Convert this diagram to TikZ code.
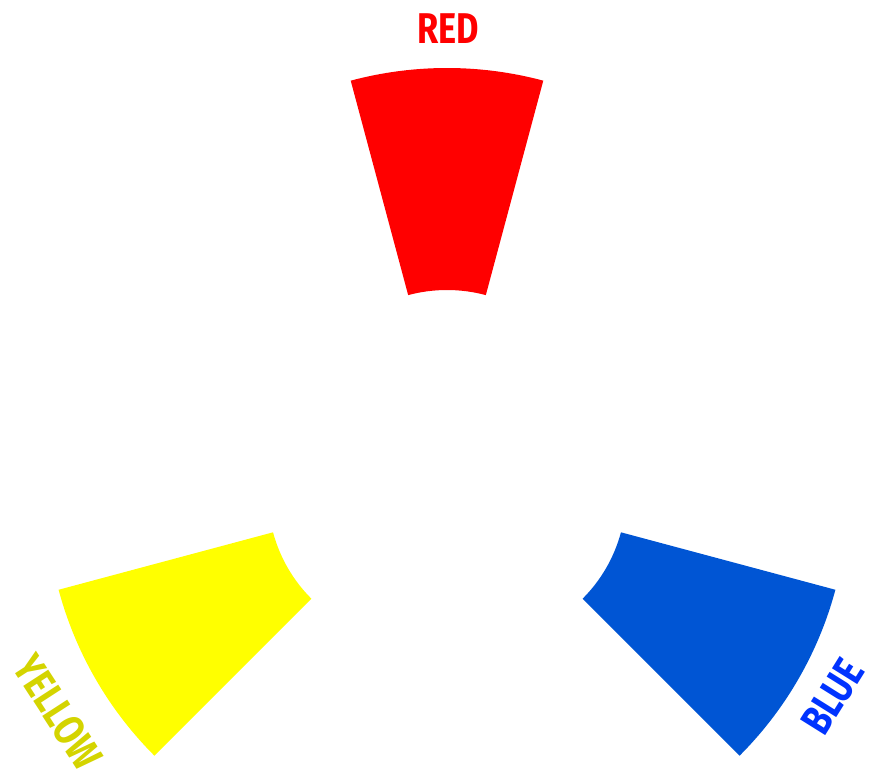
\documentclass[tikz,border=0pt]{standalone}
\usepackage{fontspec}
\newfontfamily\labfont[FakeStretch=0.8]{Fira Sans}
\definecolor{redfill}{RGB}{255,0,0}
\definecolor{yellowfill}{RGB}{255,255,0}
\definecolor{bluefill}{RGB}{0,85,212}
\definecolor{yellowtext}{RGB}{212,212,0}
\definecolor{bluetext}{RGB}{0,51,255}
\definecolor{redtext}{RGB}{255,0,0}
\tikzset{
  lab/.style={font=\labfont\bfseries\fontsize{43}{43}\selectfont, inner sep=0pt, anchor=center}
}
\begin{document}
\begin{tikzpicture}[x=1pt,y=-1pt]
\useasboundingbox (0,0) rectangle (871,779);
% red sector, centre (447,440)
\fill[redfill] (447,440) ++(255:150) arc[start angle=255,end angle=285,radius=150]
  -- ([shift={(285:372)}]447,440) arc[start angle=285,end angle=255,radius=372] -- cycle;
% blue sector, centre (478,494)
\fill[bluefill] (478,494) ++(15:148) arc[start angle=15,end angle=45,radius=148]
  -- ([shift={(45:370)}]478,494) arc[start angle=45,end angle=15,radius=370] -- cycle;
% yellow sector, centre (416,494)
\fill[yellowfill] (416,494) ++(135:148) arc[start angle=135,end angle=165,radius=148]
  -- ([shift={(165:370)}]416,494) arc[start angle=165,end angle=135,radius=370] -- cycle;
\node[lab, text=redtext] (red) at (448,29) {RED};
\node[lab, text=yellowtext, rotate=-57] (yellow) at (58,712) {YELLOW};
\node[lab, text=bluetext, rotate=58] (blue) at (833,697) {BLUE};
\end{tikzpicture}
\end{document}
